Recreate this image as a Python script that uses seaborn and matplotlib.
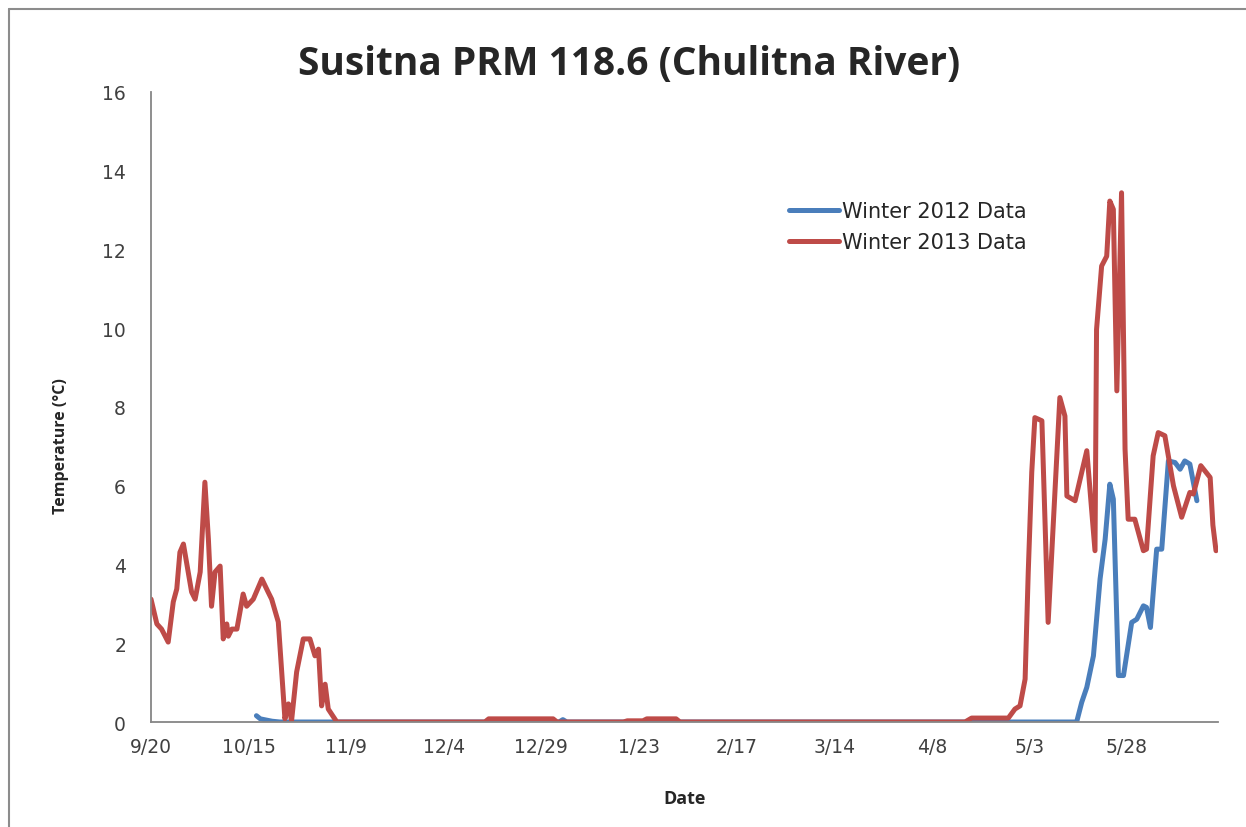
import pandas as pd
import seaborn as sns
import matplotlib.pyplot as plt
from matplotlib.lines import Line2D

# days after 9/20 and water temperature (deg C)
days_2012 = [27.0, 28.0, 29.5, 31.0, 33.0, 104.5, 105.5, 106.5, 237.1, 238.4, 239.7,
             241.4, 243.1, 244.4, 245.6, 246.5, 247.8, 249.1, 251.2, 252.5, 254.2,
             255.0, 256.0, 257.6, 258.9, 260.6, 262.3, 263.6, 264.8, 266.1, 267.9]
temps_2012 = [0.16, 0.08, 0.05, 0.02, 0.0, 0.0, 0.06, 0.0, 0.0, 0.5, 0.88,
              1.68, 3.63, 4.64, 6.04, 5.66, 1.18, 1.18, 2.53, 2.61, 2.95,
              2.91, 2.4, 4.39, 4.39, 6.63, 6.59, 6.42, 6.63, 6.55, 5.62]

days_2013 = [0.0, 1.5, 2.7, 4.4, 5.7, 6.6, 7.4, 8.3, 10.4, 11.3, 12.6, 13.8, 14.7,
             15.5, 16.4, 17.7, 18.5, 19.4, 19.8, 20.7, 22.0, 23.6, 24.5, 26.2, 28.4,
             30.0, 30.9, 32.6, 34.3, 35.2, 36.0, 37.3, 39.0, 40.7, 42.0, 42.9, 43.7,
             44.6, 45.4, 47.6, 85.5, 86.5, 103.0, 104.0, 121.0, 122.0, 126.0, 127.0,
             134.5, 135.5, 208.5, 210.2, 219.6, 221.3, 222.6, 223.9, 224.7, 225.6,
             226.4, 228.2, 229.8, 232.8, 234.1, 234.6, 236.7, 239.7, 241.8, 242.2,
             243.5, 244.8, 245.6, 246.5, 247.4, 248.6, 249.5, 250.3, 252.0, 254.2,
             255.0, 256.7, 258.0, 259.7, 261.9, 264.0, 266.1, 267.0, 268.9, 271.3,
             272.0, 272.8]
temps_2013 = [3.12, 2.49, 2.36, 2.03, 3.05, 3.38, 4.31, 4.52, 3.3, 3.12, 3.81, 6.09, 4.64,
              2.94, 3.81, 3.96, 2.11, 2.49, 2.18, 2.36, 2.36, 3.25, 2.94, 3.12, 3.63,
              3.3, 3.12, 2.54, 0.08, 0.46, 0.03, 1.27, 2.11, 2.11, 1.68, 1.85, 0.41,
              0.96, 0.33, 0.0, 0.0, 0.08, 0.08, 0.0, 0.0, 0.03, 0.03, 0.08,
              0.08, 0.0, 0.0, 0.1, 0.1, 0.33, 0.41, 1.09, 3.8, 6.34,
              7.73, 7.65, 2.53, 8.24, 7.77, 5.74, 5.62, 6.89, 4.35, 9.97,
              11.58, 11.83, 13.23, 13.02, 8.41, 13.44, 6.93, 5.15, 5.15, 4.35,
              4.39, 6.76, 7.35, 7.27, 6.0, 5.2, 5.83, 5.79, 6.51, 6.21,
              5.0, 4.35]

series_names = ["Winter 2012 Data", "Winter 2013 Data"]
colors = ["#4A7EBB", "#BE4B48"]

start = pd.Timestamp("2012-09-20")
df = pd.concat([
    pd.DataFrame({"day": days_2012, "temp": temps_2012, "series": series_names[0]}),
    pd.DataFrame({"day": days_2013, "temp": temps_2013, "series": series_names[1]}),
])
df["date"] = start + pd.to_timedelta(df["day"], unit="D")

sns.set_style("white")
plt.rcParams["font.family"] = ["DejaVu Sans"]
head_font = ["Open Sans", "DejaVu Sans"]

fig = plt.figure(figsize=(12.46, 8.28), dpi=100)
ax = fig.add_axes([0.1212, 0.1268, 0.8563, 0.7609])

sns.lineplot(data=df, x="date", y="temp", hue="series", palette=colors,
             estimator=None, sort=False, linewidth=3.6, ax=ax)

ticks = pd.date_range(start, periods=11, freq="25D")
ax.set_xticks(ticks)
ax.set_xticklabels([f"{d.month}/{d.day}" for d in ticks], fontsize=13.5, color="#404040")
ax.set_xlim(start, start + pd.Timedelta(days=273.3))
ax.set_ylim(0, 16)
ax.set_yticks(range(0, 17, 2))
ax.tick_params(axis="y", labelsize=13.5, labelcolor="#404040")

for side in ["top", "right"]:
    ax.spines[side].set_visible(False)
for side in ["left", "bottom"]:
    ax.spines[side].set_color("#868686")
    ax.spines[side].set_linewidth(1.3)
ax.tick_params(direction="out", length=5, width=1.3, color="#868686")
ax.tick_params(axis="x", pad=6)
ax.tick_params(axis="y", pad=13)

ax.set_xlabel("Date", fontsize=13, fontweight="bold", family=head_font)
ax.set_ylabel("Temperature (°C)", fontsize=11.5, fontweight="bold", family=head_font)
ax.xaxis.set_label_coords(0.5, -0.106)
ax.yaxis.set_label_coords(-0.077, 0.44)
fig.suptitle("Susitna PRM 118.6 (Chulitna River)", fontsize=28, fontweight="bold",
             x=0.505, y=0.946, family=head_font)

ax.legend(loc="upper left", bbox_to_anchor=(0.58, 0.857), frameon=False,
          fontsize=15, handlelength=2.4, handletextpad=0.15, labelspacing=0.55)

# outer chart border (top and left edges visible)
fig.add_artist(Line2D([9 / 1246, 1], [1 - 10 / 828, 1 - 10 / 828], color="#8c8c8c", lw=1.5))
fig.add_artist(Line2D([9 / 1246, 9 / 1246], [0, 1 - 10 / 828], color="#8c8c8c", lw=1.5))

fig.savefig("out.png", dpi=100)
